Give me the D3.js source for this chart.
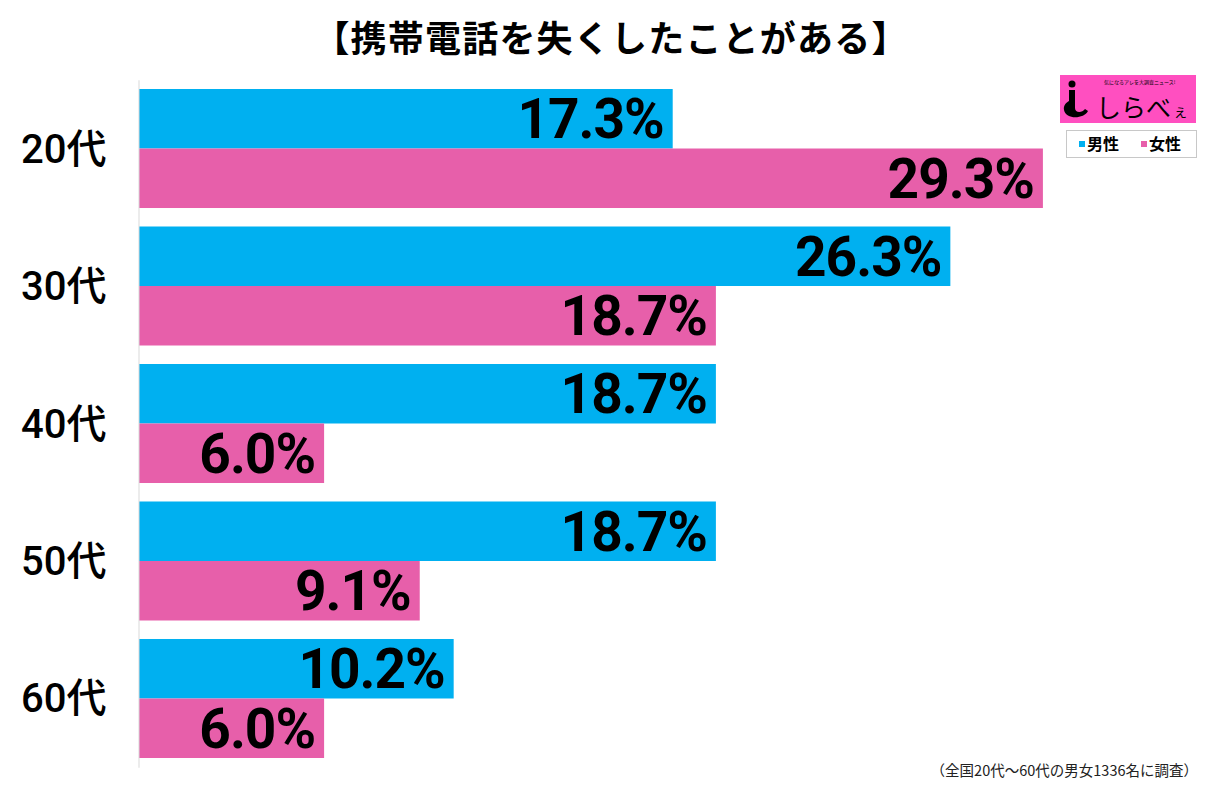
<!DOCTYPE html>
<html><head><meta charset="utf-8">
<script src="https://cdn.jsdelivr.net/npm/d3@7"></script>
<style>
html,body{margin:0;padding:0;background:#fff;}
svg{display:block;}
</style>
</head><body>
<script>
const categories = ["20代","30代","40代","50代","60代"];
const seriesNames = ["男性","女性"];
const maleValues = [17.3, 26.3, 18.7, 18.7, 10.2];
const femaleValues = [29.3, 18.7, 6.0, 9.1, 6.0];
const seriesColors = ["#00B0F0","#E75FAA"];
const titleText = "【携帯電話を失くしたことがある】";
const noteText = "（全国20代～60代の男女1336名に調査）";

const W = 1220, H = 789;
const svg = d3.select("body").append("svg").attr("width", W).attr("height", H);

const rows = categories.map((c,i)=>({cat:c, vals:[maleValues[i], femaleValues[i]]}));

const y = d3.scaleBand().domain(categories).range([79.75, 767.25])
  .paddingInner(0.1345).paddingOuter(0.0673);
const ySub = d3.scaleBand().domain(seriesNames).range([0, y.bandwidth()]);
const x = d3.scaleLinear().domain([0,30]).range([139, 139 + 30*30.85]);

// title
svg.append("text").attr("x", 611).attr("y", 52).attr("text-anchor","middle")
  .attr("font-family","'Noto Sans CJK JP', sans-serif").attr("font-weight","bold")
  .attr("font-size", 36).attr("letter-spacing", 1.2).attr("fill","#000").text(titleText);

// bars
const g = svg.append("g");
const grp = g.selectAll("g.grp").data(rows).join("g").attr("class","grp")
  .attr("transform", d=>`translate(0,${y(d.cat)})`);
grp.selectAll("rect").data(d=>d.vals.map((v,j)=>({v, s:seriesNames[j], j})))
  .join("rect")
  .attr("x", x(0)).attr("y", d=>ySub(d.s))
  .attr("width", d=>x(d.v)-x(0)).attr("height", ySub.bandwidth())
  .attr("fill", d=>seriesColors[d.j]);
grp.selectAll("text").data(d=>d.vals.map((v,j)=>({v, s:seriesNames[j], j})))
  .join("text")
  .attr("x", d=>x(d.v)-9).attr("y", d=>ySub(d.s)+ySub.bandwidth()/2+19.5)
  .attr("text-anchor","end")
  .attr("font-family","Roboto, 'Liberation Sans', sans-serif").attr("font-weight",700)
  .attr("font-size", 55).attr("letter-spacing", -1).attr("fill","#000")
  .text(d=>d.v.toFixed(1)+"%");

// axis
const ax = svg.append("g").attr("transform","translate(138.5,0)")
  .call(d3.axisLeft(y).tickSize(0).tickPadding(32).tickSizeOuter(0));
ax.select(".domain").attr("stroke","#d9d9d9").attr("stroke-width",1);
ax.selectAll("text").attr("font-family","Roboto, 'Noto Sans CJK JP', sans-serif")
  .attr("font-size", 40).attr("font-weight",500).attr("fill","#000").attr("dy","0.35em");

// logo
const logo = svg.append("g");
logo.append("rect").attr("x",1060).attr("y",75).attr("width",136).attr("height",48).attr("fill","#FF4FC0");
logo.append("circle").attr("cx",1072).attr("cy",84).attr("r",3.5).attr("fill","#000");
logo.append("path").attr("d","M1069,90 L1075,90 L1075,108 C1075,113 1082,113 1085,109 L1088,111 C1084,119 1066,120 1064,110 C1063,105 1067,102 1069,101 Z")
  .attr("fill","#000");
logo.append("text").attr("x",1104).attr("y",84).attr("font-family","'Noto Sans CJK JP', sans-serif")
  .attr("font-size",5).attr("fill","#000").text("気になるアレを大調査ニュース!");
logo.append("text").attr("x",1096).attr("y",117).attr("font-family","'Noto Sans CJK JP', sans-serif")
  .attr("font-size",25).attr("fill","#000").text("しらべ");
logo.append("text").attr("x",1173).attr("y",117).attr("font-family","'Noto Sans CJK JP', sans-serif")
  .attr("font-size",15).attr("fill","#000").text("ぇ");

// legend
const leg = svg.append("g");
leg.append("rect").attr("x",1066.5).attr("y",130.5).attr("width",130).attr("height",27)
  .attr("fill","#fff").attr("stroke","#c8c8c8");
const li = leg.selectAll("g.li").data(seriesNames).join("g").attr("class","li")
  .attr("transform",(d,i)=>`translate(${1079 + i*62},144)`);
li.append("rect").attr("x",0).attr("y",-3).attr("width",6).attr("height",6).attr("fill",(d,i)=>seriesColors[i]);
li.append("text").attr("x",8).attr("y",6).attr("font-family","'Noto Sans CJK JP', sans-serif")
  .attr("font-weight","bold").attr("font-size",16).attr("fill","#000").text(d=>d);

// note
svg.append("text").attr("x",1198).attr("y",776).attr("text-anchor","end")
  .attr("font-family","'Noto Sans CJK JP', sans-serif").attr("font-size",14.5).attr("fill","#222")
  .text(noteText);
</script>
</body></html>
